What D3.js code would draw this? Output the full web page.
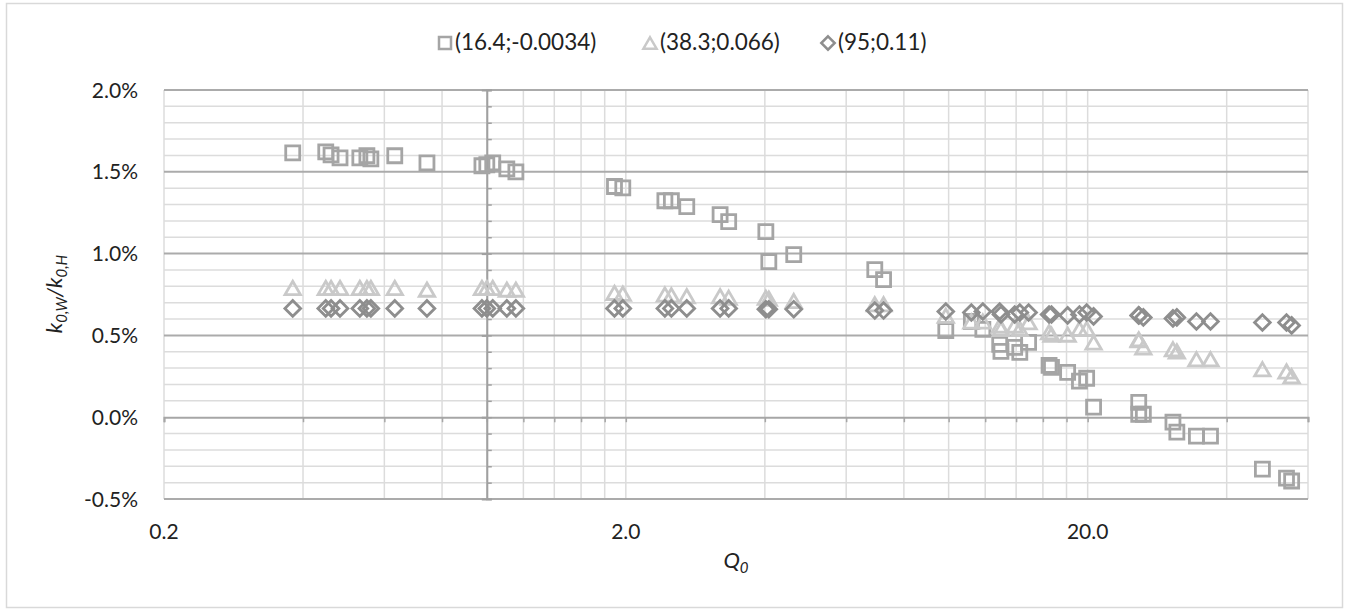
<!DOCTYPE html>
<html>
<head>
<meta charset="utf-8">
<script src="https://cdn.jsdelivr.net/npm/d3@7"></script>
<style>
  body { margin: 0; background: #fff; }
  svg { font-family: Lato, "Open Sans", sans-serif; }
</style>
</head>
<body>
<div id="app"></div>
<script>
const W = 1349;
const H = 612;

// Q0 values, shared by the three series
const q0 = [
  0.380, 0.448, 0.460, 0.481, 0.531, 0.550, 0.561, 0.632, 0.742, 0.976,
  1.00, 1.03, 1.105, 1.156, 1.89, 1.97, 2.43, 2.51, 2.71, 3.20,
  3.34, 4.02, 4.08, 4.62, 6.92, 7.23, 9.86, 11.2, 11.86, 12.9,
  12.98, 13.9, 14.26, 14.9, 16.5, 16.7, 18.1, 19.2, 19.9, 20.6,
  25.8, 25.8, 26.4, 30.6, 31.2, 34.4, 36.9, 47.8, 53.9, 55.3
];

// k0,W/k0,H in percent
const seriesA = [
  1.616, 1.622, 1.604, 1.585, 1.585, 1.598, 1.579, 1.598, 1.555, 1.537,
  1.543, 1.555, 1.518, 1.500, 1.410, 1.402, 1.323, 1.323, 1.287, 1.238,
  1.195, 1.134, 0.951, 0.994, 0.902, 0.841, 0.530, 0.585, 0.537, 0.445,
  0.402, 0.427, 0.396, 0.457, 0.317, 0.305, 0.274, 0.220, 0.238, 0.061,
  0.091, 0.018, 0.018, -0.030, -0.091, -0.116, -0.116, -0.317, -0.372, -0.390
];
const seriesB = [
  0.790, 0.790, 0.790, 0.790, 0.790, 0.790, 0.790, 0.790, 0.780, 0.790,
  0.790, 0.790, 0.780, 0.780, 0.760, 0.755, 0.750, 0.745, 0.740, 0.740,
  0.730, 0.730, 0.725, 0.710, 0.690, 0.690, 0.620, 0.585, 0.585, 0.560,
  0.540, 0.560, 0.540, 0.580, 0.520, 0.505, 0.505, 0.540, 0.540, 0.457,
  0.476, 0.470, 0.427, 0.415, 0.402, 0.354, 0.354, 0.293, 0.280, 0.250
];
const seriesC = [
  0.665, 0.665, 0.665, 0.665, 0.665, 0.665, 0.665, 0.665, 0.665, 0.665,
  0.665, 0.665, 0.665, 0.665, 0.665, 0.665, 0.665, 0.665, 0.665, 0.665,
  0.665, 0.660, 0.660, 0.660, 0.652, 0.652, 0.646, 0.640, 0.646, 0.646,
  0.628, 0.628, 0.640, 0.640, 0.628, 0.628, 0.622, 0.628, 0.640, 0.616,
  0.622, 0.622, 0.610, 0.604, 0.610, 0.585, 0.585, 0.579, 0.579, 0.561
];

const seriesNames = ["(16.4;-0.0034)", "(38.3;0.066)", "(95;0.11)"];

const xMajorTicks = [0.2, 2, 20];
const yMajorTicks = [-0.5, 0, 0.5, 1.0, 1.5, 2.0];

// custom marker shapes, size = side length
const squareShape = { draw(c, s) { c.rect(-s / 2, -s / 2, s, s); } };
const triangleShape = {
  draw(c, s) {
    const w = s * 1.1, h = s * 0.95;
    c.moveTo(0, -h / 2);
    c.lineTo(w / 2, h / 2);
    c.lineTo(-w / 2, h / 2);
    c.closePath();
  }
};
const diamondShape = {
  draw(c, s) {
    const r = s * 0.56;
    c.moveTo(0, -r);
    c.lineTo(r, 0);
    c.lineTo(0, r);
    c.lineTo(-r, 0);
    c.closePath();
  }
};

const series = [
  { name: seriesNames[0], values: seriesA, shape: squareShape, color: "#a5a5a5" },
  { name: seriesNames[1], values: seriesB, shape: triangleShape, color: "#c9c9c9" },
  { name: seriesNames[2], values: seriesC, shape: diamondShape, color: "#8e8e8e" }
];

const plot = { left: 164, right: 1308, top: 90, bottom: 499 };

const x = d3.scaleLog().domain([0.2, 60]).range([plot.left, plot.right]);
const y = d3.scaleLinear().domain([-0.5, 2.0]).range([plot.bottom, plot.top]);

// Excel style log minor lines: k * decade start
const xMinor = [];
xMajorTicks.forEach((b) => {
  for (let k = 1; k <= 9; k++) {
    const v = +(b * k).toFixed(4);
    if (v <= 60.0001) xMinor.push(v);
  }
});
const yMinor = d3.range(-5, 21).map((d) => d / 10);

const svg = d3.select("#app").append("svg").attr("width", W).attr("height", H);

// chart border
svg.append("rect")
  .attr("x", 6.5).attr("y", 3.5)
  .attr("width", 1336).attr("height", 604)
  .attr("fill", "none").attr("stroke", "#d9d9d9").attr("stroke-width", 1.5);

// gridlines
const grid = svg.append("g");
grid.selectAll(".vgrid")
  .data(xMinor)
  .enter().append("line")
  .attr("x1", (d) => x(d)).attr("x2", (d) => x(d))
  .attr("y1", plot.top).attr("y2", plot.bottom)
  .attr("stroke", "#dcdcdc").attr("stroke-width", 1.5);

grid.selectAll(".hminor")
  .data(yMinor.filter((d) => !yMajorTicks.some((m) => Math.abs(m - d) < 1e-9)))
  .enter().append("line")
  .attr("x1", plot.left).attr("x2", plot.right)
  .attr("y1", (d) => y(d)).attr("y2", (d) => y(d))
  .attr("stroke", "#dcdcdc").attr("stroke-width", 1.5);

grid.selectAll(".hmajor")
  .data(yMajorTicks.filter((d) => d !== 0))
  .enter().append("line")
  .attr("x1", plot.left).attr("x2", plot.right)
  .attr("y1", (d) => y(d)).attr("y2", (d) => y(d))
  .attr("stroke", "#ababab").attr("stroke-width", 2);

// x axis, crossing at 0%
const xAxis = svg.append("g")
  .attr("transform", `translate(0,${y(0)})`)
  .call(d3.axisBottom(x).tickValues(xMinor).tickSize(5).tickFormat(""));
xAxis.select(".domain").attr("stroke", "#a6a6a6").attr("stroke-width", 2);
xAxis.selectAll(".tick line").attr("stroke", "#a6a6a6").attr("stroke-width", 1.5);

// y axis, crossing at Q0 = 1
const yAxisMinor = svg.append("g")
  .attr("transform", `translate(${x(1)},0)`)
  .call(d3.axisLeft(y).tickValues(yMinor).tickSize(-5).tickFormat(""));
yAxisMinor.select(".domain").attr("stroke", "#a0a0a0").attr("stroke-width", 2);
yAxisMinor.selectAll(".tick line").attr("stroke", "#a0a0a0").attr("stroke-width", 1.5);

const yAxisMajor = svg.append("g")
  .attr("transform", `translate(${x(1)},0)`)
  .call(d3.axisLeft(y).tickValues(yMajorTicks).tickSize(5).tickSizeOuter(0).tickFormat(""));
yAxisMajor.select(".domain").remove();
yAxisMajor.selectAll(".tick line").attr("stroke", "#a0a0a0").attr("stroke-width", 2);

// tick labels (low position, like the source)
svg.append("g").selectAll("text")
  .data(yMajorTicks)
  .enter().append("text")
  .attr("x", 138).attr("y", (d) => y(d) + 7.5)
  .attr("text-anchor", "end")
  .attr("font-size", 21).attr("fill", "#222")
  .text((d) => d.toFixed(1) + "%");

svg.append("g").selectAll("text")
  .data(xMajorTicks)
  .enter().append("text")
  .attr("x", (d) => x(d)).attr("y", 539)
  .attr("text-anchor", "middle")
  .attr("font-size", 21).attr("fill", "#222")
  .text((d) => d.toFixed(1));

// axis titles
const xt = svg.append("text")
  .attr("x", 736).attr("y", 568)
  .attr("text-anchor", "middle")
  .attr("font-size", 22).attr("font-style", "italic").attr("fill", "#222");
xt.append("tspan").text("Q");
xt.append("tspan").attr("font-size", 15).attr("dy", 5).text("0");

const yt = svg.append("text")
  .attr("transform", "translate(62,294) rotate(-90)")
  .attr("text-anchor", "middle")
  .attr("font-size", 22).attr("font-style", "italic").attr("fill", "#222");
yt.append("tspan").text("k");
yt.append("tspan").attr("font-size", 15).attr("dy", 5).text("0,W");
yt.append("tspan").attr("dy", -5).text("/k");
yt.append("tspan").attr("font-size", 15).attr("dy", 5).text("0,H");

// markers
const sym = d3.symbol();
series.forEach((s) => {
  svg.append("g").selectAll("path")
    .data(q0.map((q, i) => [q, s.values[i]]))
    .enter().append("path")
    .attr("transform", (d) => `translate(${x(d[0])},${y(d[1])})`)
    .attr("d", sym.type(s.shape).size(14)())
    .attr("fill", "none")
    .attr("stroke", s.color)
    .attr("stroke-width", 2.8);
});

// legend
const legendX = [445, 650, 828];
const legend = svg.append("g");
series.forEach((s, i) => {
  legend.append("path")
    .attr("transform", `translate(${legendX[i]},43)`)
    .attr("d", sym.type(s.shape).size(12)())
    .attr("fill", "none").attr("stroke", s.color).attr("stroke-width", 2.5);
  legend.append("text")
    .attr("x", legendX[i] + 10).attr("y", 50)
    .attr("font-size", 22.5).attr("fill", "#222")
    .text(s.name);
});
</script>
</body>
</html>
